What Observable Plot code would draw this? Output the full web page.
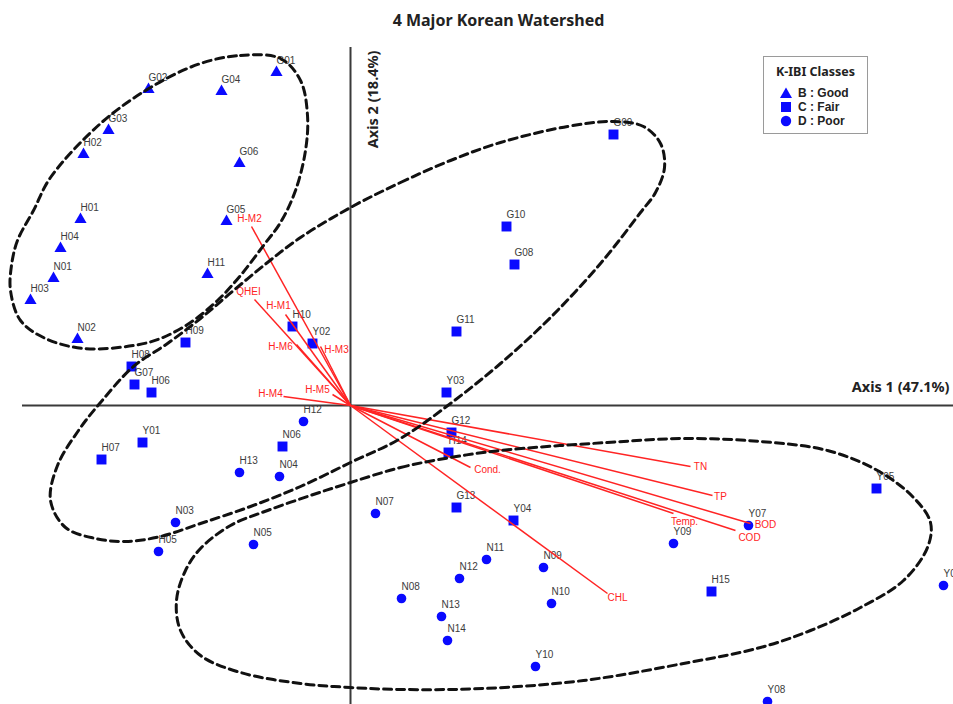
<!DOCTYPE html>
<html>
<head>
<meta charset="utf-8">
<script src="https://cdn.jsdelivr.net/npm/d3@7"></script>
<script src="https://cdn.jsdelivr.net/npm/@observablehq/plot@0.6"></script>
<style>
  body { margin: 0; background: #fff; }
  #wrap { position: relative; width: 953px; height: 704px; overflow: hidden; background: #fff; }
  #title { height: 40px; line-height: 40px; text-align: center; padding-left: 44px; box-sizing: border-box;
           font-family: "Noto Sans", "Open Sans", sans-serif; font-weight: 700; font-size: 16px; color: #222; }
  #legend { position: absolute; left: 763px; top: 56px; width: 105px; height: 78px; box-sizing: border-box;
            border: 1.5px solid #9a9a9a; background: #fff; color: #222; }
  #legend .lt { position: absolute; left: 0; width: 100%; top: 7px; line-height: 16px; text-align: center; font-weight: 700; font-size: 12.5px;
                font-family: "Noto Sans", "Open Sans", sans-serif; }
  #legend .row { position: absolute; left: 16px; height: 14px; line-height: 14px; display: flex; align-items: center; font-weight: 700; font-size: 12px;
                 font-family: "Liberation Sans", Arial, sans-serif; }
  #legend .row svg { margin-right: 6px; flex: none; }
  #plot svg { display: block; }
</style>
</head>
<body>
<div id="wrap">
  <div id="title"></div>
  <div id="plot"></div>
  <div id="legend"></div>
</div>
<script>
// ---------- data (axis scores) ----------
const chartTitle = "4 Major Korean Watershed";
const axis1Title = "Axis 1 (47.1%)";
const axis2Title = "Axis 2 (18.4%)";
const legendTitle = "K-IBI Classes";
const classCodes = ["B", "C", "D"];
const classLabels = ["B : Good", "C : Fair", "D : Poor"];

const siteNames = ["G01","G02","G04","G03","H02","G06","H01","G05","H04","H11","N01","H03","N02",
  "G09","G10","G08","G11","Y03","H10","Y02","H09","H08","G07","H06","Y01","H07","N06","G12","H14","G13","Y04","H15","Y05",
  "H12","H13","N04","N03","H05","N05","N07","N11","N09","N12","N08","N10","N13","N14","Y10","Y09","Y07","Y06","Y08"];
const siteClass = ["B","B","B","B","B","B","B","B","B","B","B","B","B",
  "C","C","C","C","C","C","C","C","C","C","C","C","C","C","C","C","C","C","C","C",
  "D","D","D","D","D","D","D","D","D","D","D","D","D","D","D","D","D","D","D"];
const axis1 = [-0.74,-2.02,-1.29,-2.42,-2.67,-1.11,-2.70,-1.24,-2.90,-1.43,-2.97,-3.20,-2.73,
  2.63,1.56,1.64,1.06,0.96,-0.58,-0.38,-1.65,-2.19,-2.16,-1.99,-2.08,-2.49,-0.68,1.01,0.98,1.06,1.63,3.61,5.26,
  -0.47,-1.11,-0.71,-1.75,-1.92,-0.97,0.25,1.36,1.93,1.09,0.51,2.01,0.91,0.97,1.85,3.23,3.98,5.93,4.17];
const axis2 = [3.33,3.16,3.14,2.75,2.51,2.42,1.86,1.84,1.57,1.31,1.27,1.05,0.66,
  2.71,1.79,1.41,0.74,0.13,0.79,0.62,0.63,0.39,0.21,0.13,-0.37,-0.54,-0.41,-0.27,-0.47,-1.02,-1.15,-1.86,-0.83,
  -0.16,-0.67,-0.71,-1.17,-1.46,-1.39,-1.08,-1.54,-1.62,-1.73,-1.93,-1.98,-2.11,-2.35,-2.61,-1.38,-1.20,-1.80,-2.96];

const vecNames = ["H-M2","QHEI","H-M1","H-M6","H-M3","H-M5","H-M4","TN","TP","BOD","COD","Temp.","Cond.","CHL"];
const vecX = [-0.99,-0.96,-0.65,-0.54,-0.30,-0.18,-0.67, 3.40, 3.62, 4.00, 3.85, 3.23, 1.20, 2.57];
const vecY = [ 1.79, 1.06, 0.91, 0.61, 0.59, 0.11, 0.09,-0.61,-0.90,-1.18,-1.25,-1.08,-0.62,-1.88];
const vecLabelX = [-1.01,-1.02,-0.72,-0.70,-0.14,-0.33,-0.80, 3.50, 3.70, 4.15, 3.99, 3.34, 1.37, 2.67];
const vecLabelY = [ 1.87, 1.14, 1.00, 0.59, 0.56, 0.16, 0.12,-0.61,-0.91,-1.19,-1.32,-1.16,-0.64,-1.92];

// traced outlines of the three dashed group envelopes
const ell1X = [-1.50,-1.10,-0.70,-0.50,-0.43,-0.45,-0.55,-0.70,-0.87,-1.10,-1.33,-1.60,-1.90,-2.17,-2.67,-3.05,-3.30,-3.40,-3.39,-3.33,-3.17,-3.00,-2.50,-2.00];
const ell1Y = [ 3.42, 3.50, 3.47, 3.25, 2.90, 2.55, 2.15, 1.83, 1.60, 1.30, 1.05, 0.83, 0.67, 0.60, 0.57, 0.67, 0.85, 1.15, 1.40, 1.65, 1.95, 2.28, 2.82, 3.18];
const ell2X = [0.00,0.50,1.00,1.50,2.17,2.63,2.93,3.10,3.14,3.05,2.90,2.50,2.00,1.50,1.00,0.50,0.00,-0.50,-1.00,-1.50,-1.90,-2.25,-2.55,-2.85,-3.00,-2.93,-2.72,-2.50,-2.17,-1.83,-1.50,-1.17,-0.83,-0.50];
const ell2Y = [1.98,2.23,2.45,2.63,2.79,2.84,2.79,2.62,2.38,2.13,1.93,1.42,0.88,0.42,0.02,-0.33,-0.57,-0.81,-1.01,-1.18,-1.31,-1.36,-1.33,-1.22,-0.95,-0.60,-0.25,0.03,0.39,0.62,0.87,1.15,1.43,1.68];
const ell3X = [0.00,0.50,1.00,1.50,2.57,3.33,4.10,4.77,5.27,5.63,5.80,5.77,5.53,5.10,4.60,4.10,3.33,2.33,1.33,0.50,0.00,-0.50,-1.10,-1.50,-1.70,-1.74,-1.65,-1.50,-1.20,-0.83,-0.40];
const ell3Y = [-0.77,-0.62,-0.52,-0.45,-0.37,-0.33,-0.36,-0.45,-0.65,-0.92,-1.17,-1.42,-1.75,-2.02,-2.25,-2.42,-2.58,-2.75,-2.83,-2.84,-2.82,-2.78,-2.67,-2.50,-2.25,-1.95,-1.65,-1.43,-1.20,-1.05,-0.90];

const axis1Extent = [-3.28, 6.03];
const axis2Extent = [-2.99, 3.58];

// ---------- tables ----------
const sites = siteNames.map((n, i) => ({name: n, cls: siteClass[i], x: axis1[i], y: axis2[i]}));
const vecs = vecNames.map((n, i) => ({name: n, x: vecX[i], y: vecY[i], lx: vecLabelX[i], ly: vecLabelY[i]}));
const envelopes = [];
[[ell1X, ell1Y], [ell2X, ell2Y], [ell3X, ell3Y]].forEach(([xs, ys], g) =>
  xs.forEach((x, i) => envelopes.push({g, x, y: ys[i]})));

const blue = "#0a0aff";
const red = "#ff2424";
const symbolOf = {B: "triangle", C: "square", D: "circle"};
const rOf = {B: 4.5, C: 5.6, D: 4.8};

const chart = Plot.plot({
  width: 953, height: 664, margin: 0,
  x: {domain: [-3.5, 6.03], axis: null},
  y: {domain: [-2.99, 3.65], axis: null},
  style: {fontFamily: "'Liberation Sans', Arial, sans-serif", background: "transparent"},
  marks: [
    Plot.ruleY([0], {x1: axis1Extent[0], x2: axis1Extent[1], stroke: "#3a3a3a", strokeWidth: 2}),
    Plot.ruleX([0], {y1: axis2Extent[0], y2: axis2Extent[1], stroke: "#3a3a3a", strokeWidth: 2}),
    ...classCodes.map(c => Plot.dot(sites.filter(d => d.cls === c),
      {x: "x", y: "y", symbol: symbolOf[c], r: rOf[c], fill: blue, stroke: "none"})),
    Plot.text(sites, {x: "x", y: "y", text: "name", textAnchor: "start", dx: 0, dy: -12, fontSize: 10, fill: "#3c3c3c"}),
    Plot.link(vecs, {x1: 0, y1: 0, x2: "x", y2: "y", stroke: red, strokeWidth: 1.5}),
    Plot.text(vecs, {x: "lx", y: "ly", text: "name", fontSize: 10, fill: red}),
    Plot.line(envelopes, {x: "x", y: "y", z: "g", curve: "catmull-rom-closed", stroke: "#111", strokeWidth: 3, strokeDasharray: "8,5"}),
    Plot.text([axis1Title], {text: d => d, y: 0, frameAnchor: "right", textAnchor: "end", dx: -4, dy: -18,
      fontSize: 14.5, fontWeight: "bold", fill: "#222", fontFamily: "'Noto Sans', sans-serif"}),
    Plot.text([axis2Title], {text: d => d, x: 0, frameAnchor: "top", rotate: -90, textAnchor: "end", dx: 17, dy: 10,
      fontSize: 14.5, fontWeight: "bold", fill: "#222", fontFamily: "'Noto Sans', sans-serif"})
  ]
});
document.getElementById("plot").appendChild(chart);
document.getElementById("title").textContent = chartTitle;

// legend
const legend = document.getElementById("legend");
const lt = document.createElement("div");
lt.className = "lt"; lt.textContent = legendTitle;
legend.appendChild(lt);
const shapes = {
  B: '<polygon points="6,0.5 12,11 0,11" fill="' + blue + '"/>',
  C: '<rect x="1" y="1" width="10" height="10" fill="' + blue + '"/>',
  D: '<circle cx="6" cy="6" r="5.2" fill="' + blue + '"/>'
};
classCodes.forEach((c, i) => {
  const row = document.createElement("div");
  row.className = "row";
  row.style.top = (29 + i * 14) + "px";
  row.innerHTML = '<svg width="12" height="12" viewBox="0 0 12 12">' + shapes[c] + '</svg><span>' + classLabels[i] + '</span>';
  legend.appendChild(row);
});
</script>
</body>
</html>
